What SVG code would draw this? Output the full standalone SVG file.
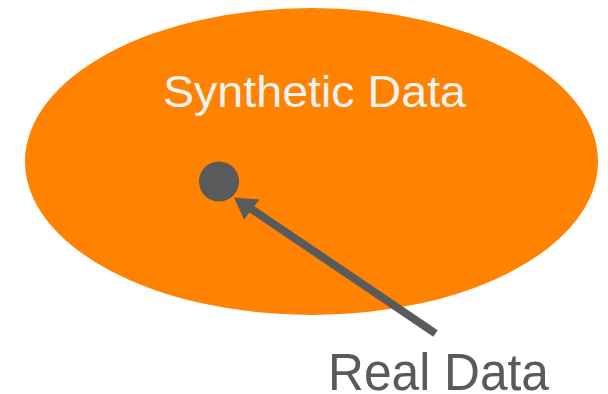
<svg xmlns="http://www.w3.org/2000/svg" width="608" height="394" viewBox="0 0 608 394">
  <style>
    .lbl { font-family: "Liberation Sans", Arial, sans-serif; }
    .conn { stroke: #595a5c; stroke-width: 8; fill: none; }
    .head { fill: #595a5c; }
  </style>
  <rect width="608" height="394" fill="#ffffff"/>
  <g id="synthetic">
    <ellipse cx="311.5" cy="161.5" rx="286.5" ry="153.5" fill="#ff8200"/>
    <text class="lbl" x="163" y="107" font-size="44" fill="#f2f2f2" textLength="303" lengthAdjust="spacingAndGlyphs">Synthetic Data</text>
  </g>
  <g id="real">
    <circle cx="219" cy="181.5" r="20" fill="#595a5c"/>
    <text class="lbl" x="328" y="390" font-size="51" fill="#595a5c" textLength="221" lengthAdjust="spacingAndGlyphs">Real Data</text>
  </g>
  <g id="connectors">
    <line class="conn" x1="435.5" y1="333.5" x2="250" y2="208"/>
    <polygon class="head" points="234,197.5 259.5,199.5 244,219.5"/>
  </g>
</svg>
